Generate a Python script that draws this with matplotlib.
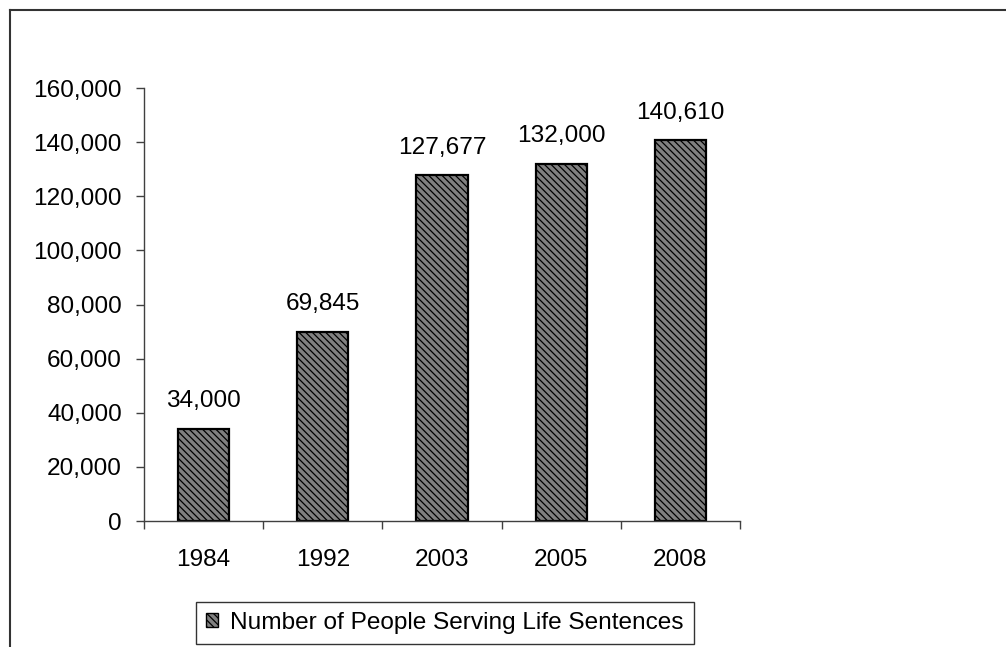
import matplotlib
matplotlib.use("Agg")
from matplotlib import pyplot as plt
from matplotlib.lines import Line2D
from matplotlib.ticker import FuncFormatter

years = ['1984', '1992', '2003', '2005', '2008']
people = [34000, 69845, 127677, 132000, 140610]
series_name = 'Number of People Serving Life Sentences'

plt.rcParams['font.family'] = ['Liberation Sans', 'DejaVu Sans']
plt.rcParams['hatch.linewidth'] = 0.9
plt.rcParams['hatch.color'] = 'black'
fs = 17.6

fig = plt.figure(figsize=(10.06, 6.47), dpi=100)
ax = fig.add_axes([144 / 1006, 1 - 521 / 647, 596 / 1006, 433 / 647])

x = list(range(len(years)))
bars = ax.bar(x, people, width=0.43, color='#808080', edgecolor='black',
              linewidth=1.6, hatch='\\\\\\\\\\', label=series_name)

for xi, v in zip(x, people):
    ax.annotate(f'{v:,}', (xi, v), xytext=(0, 12), textcoords='offset points',
                ha='center', va='bottom', fontsize=fs)

ax.set_xlim(-0.5, len(years) - 0.5)
ax.set_ylim(0, 160000)
ax.set_yticks(range(0, 160001, 20000))
ax.yaxis.set_major_formatter(FuncFormatter(lambda v, p: f'{int(v):,}'))
ax.set_xticks([i - 0.5 for i in range(len(years) + 1)])
ax.set_xticklabels([])
ax.set_xticks(x, minor=True)
ax.set_xticklabels(years, minor=True)
ax.tick_params(axis='x', which='major', length=6, width=1, color='#404040', direction='out')
ax.tick_params(axis='x', which='minor', length=0, pad=20, labelsize=fs)
ax.tick_params(axis='y', length=6, width=1, color='#404040', direction='out', pad=10, labelsize=fs)

for s in ['top', 'right']:
    ax.spines[s].set_visible(False)
for s in ['left', 'bottom']:
    ax.spines[s].set_color('#404040')
    ax.spines[s].set_linewidth(1)

# outer chart frame (cut off at right and bottom)
fig.add_artist(Line2D([10 / 1006, 10 / 1006], [0, 1 - 10 / 647], color='#333333', lw=1.5))
fig.add_artist(Line2D([10 / 1006, 1], [1 - 10 / 647, 1 - 10 / 647], color='#333333', lw=1.5))

leg = fig.legend(loc='center', bbox_to_anchor=(445 / 1006, 1 - 623 / 647), fontsize=fs,
                 frameon=True, fancybox=False, edgecolor='black', handlelength=0.5,
                 handleheight=0.5, handletextpad=0.5, borderpad=0.4, borderaxespad=0)
leg.get_frame().set_linewidth(1)
for h in leg.legend_handles:
    h.set_linewidth(1)

fig.savefig('out.png', dpi=100)
